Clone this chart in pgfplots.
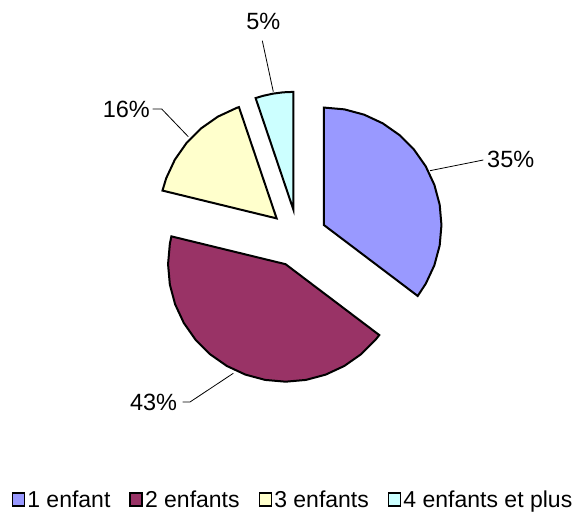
\documentclass[border=0pt]{standalone}
\usepackage{fontspec}
\setmainfont{Liberation Sans}
\usepackage{pgfplots}
\pgfplotsset{compat=1.18}
\definecolor{cA}{HTML}{9999FF}
\definecolor{cB}{HTML}{993366}
\definecolor{cC}{HTML}{FFFFCC}
\definecolor{cD}{HTML}{CCFFFF}
% Shares (%): 1 enfant 35, 2 enfants 43, 3 enfants 16, 4 enfants et plus 5
\begin{document}
\begin{tikzpicture}
\begin{axis}[
  width=581pt, height=513pt, scale only axis,
  xmin=-298, xmax=283, ymin=-275, ymax=238,
  hide axis, clip=false,
  legend columns=4,
  legend image code/.code={\draw[#1, line width=1.6pt] (0pt,-6.5pt) rectangle (12pt,6.5pt);},
  legend style={at={(axis cs:-5,-261.5)}, anchor=center, draw=none, fill=none,
    font=\fontsize{23}{27}\selectfont,
    /tikz/every even column/.append style={column sep=17pt}},
  every axis plot/.append style={line width=2pt, line join=miter},
]
% 1 enfant
\addplot[fill=cA, draw=black] coordinates {
 (25.96,12.92) (25.96,130.42) (46.36,128.64) (66.15,123.33) (84.71,114.68)
 (101.49,102.93) (115.97,88.45) (127.72,71.67) (136.37,53.11) (141.68,33.32)
 (143.46,12.92) (141.68,-7.48) (136.37,-27.27) (127.72,-45.83) (119.68,-57.96)
} -- cycle;
\addlegendentry{1 enfant}
% 2 enfants
\addplot[fill=cB, draw=black] coordinates {
 (-12.44,-26.20) (81.28,-97.08) (77.57,-101.73) (63.09,-116.21) (46.31,-127.96)
 (27.75,-136.61) (7.96,-141.92) (-12.44,-143.70) (-32.84,-141.92) (-52.63,-136.61)
 (-71.19,-127.96) (-87.97,-116.21) (-102.45,-101.73) (-114.20,-84.95) (-122.85,-66.39)
 (-128.16,-46.60) (-129.94,-26.20) (-128.16,-5.80) (-126.60,1.63)
} -- cycle;
\addlegendentry{2 enfants}
% 3 enfants
\addplot[fill=cC, draw=black] coordinates {
 (-21.38,19.59) (-135.54,47.42) (-131.79,59.78) (-123.14,78.34) (-111.39,95.12)
 (-96.91,109.60) (-80.13,121.35) (-61.57,130.00) (-59.06,130.89)
} -- cycle;
\addlegendentry{3 enfants}
% 4 enfants et plus
\addplot[fill=cD, draw=black] coordinates {
 (-4.71,28.61) (-42.39,139.91) (-35.12,142.11) (-25.11,144.33) (-14.95,145.66) (-4.71,146.11)
} -- cycle;
\addlegendentry{4 enfants et plus}
% leader lines
\addplot[black, line width=0.8pt, forget plot] coordinates {(132,67.3) (185.3,78)};
\addplot[black, line width=0.8pt, forget plot] coordinates {(-24.7,146.3) (-35.7,197.3)};
\addplot[black, line width=0.8pt, forget plot] coordinates {(-109.7,101.3) (-136.3,129) (-145.3,129)};
\addplot[black, line width=0.8pt, forget plot] coordinates {(-64.7,-135.3) (-108,-164) (-115.3,-164)};
% labels
\node[anchor=west, inner sep=0pt, font=\fontsize{23.5}{27}\selectfont] at (axis cs:189,78.7) {35\%};
\node[anchor=center, inner sep=0pt, font=\fontsize{23.5}{27}\selectfont] at (axis cs:-34.7,216.3) {5\%};
\node[anchor=east, inner sep=0pt, font=\fontsize{23.5}{27}\selectfont] at (axis cs:-148,128.5) {16\%};
\node[anchor=east, inner sep=0pt, font=\fontsize{23.5}{27}\selectfont] at (axis cs:-120.7,-164.5) {43\%};
\end{axis}
\pgfresetboundingbox
\useasboundingbox (current axis.south west) rectangle (current axis.north east);
\end{tikzpicture}
\end{document}
